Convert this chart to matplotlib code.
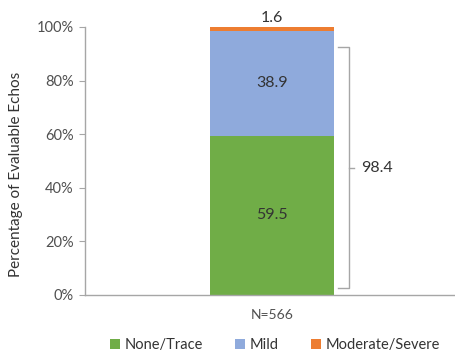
import matplotlib
matplotlib.use("Agg")
import matplotlib.pyplot as plt
from matplotlib.lines import Line2D
from matplotlib.patches import Patch

categories = ["N=566"]
series_names = ["None/Trace", "Mild", "Moderate/Severe"]
none_trace = [59.5]
mild = [38.9]
moderate_severe = [1.6]
bracket_total = 98.4
y_ticks = [0, 20, 40, 60, 80, 100]
y_tick_labels = ["0%", "20%", "40%", "60%", "80%", "100%"]

colors = ["#70AD47", "#8FAADC", "#ED7D31"]
text_dark = "#333333"
text_gray = "#505050"
axis_gray = "#A6A6A6"

plt.rcParams["font.family"] = ["Lato", "DejaVu Sans"]

fig = plt.figure(figsize=(4.56, 3.58), dpi=100)
ax = fig.add_axes([85 / 456, 1 - 295 / 358, 1 - 85 / 456, (295 - 27) / 358])

x = list(range(len(categories)))
width = 0.334
bottoms = [0.0] * len(categories)
for vals, col, name in zip([none_trace, mild, moderate_severe], colors, series_names):
    ax.bar(x, vals, width, bottom=bottoms, color=col, label=name, linewidth=0)
    bottoms = [b + v for b, v in zip(bottoms, vals)]

# segment labels
for i in x:
    ax.text(i, none_trace[i] / 2, f"{none_trace[i]:.1f}", ha="center", va="center",
            fontsize=11.5, color=text_dark)
    ax.text(i, none_trace[i] + mild[i] / 2, f"{mild[i]:.1f}", ha="center", va="center",
            fontsize=11.5, color=text_dark)
    ax.text(i, 100.8, f"{moderate_severe[i]:.1f}", ha="center", va="bottom",
            fontsize=11.5, color=text_dark)

# bracket spanning none/trace + mild
bx0, bx1, bx2 = 0.178, 0.207, 0.222
y_lo, y_hi = 2.6, 92.5
y_mid = (y_lo + y_hi) / 2
bracket_kw = dict(color=axis_gray, linewidth=1.0, clip_on=False)
ax.add_line(Line2D([bx0, bx1, bx1, bx0], [y_hi, y_hi, y_lo, y_lo], **bracket_kw))
ax.add_line(Line2D([bx1, bx2], [y_mid, y_mid], **bracket_kw))
ax.text(0.24, y_mid, f"{bracket_total:.1f}", ha="left", va="center",
        fontsize=11.5, color=text_dark)

ax.set_xlim(-0.504, 0.496)
ax.set_ylim(0, 100)
ax.set_yticks(y_ticks)
ax.set_yticklabels(y_tick_labels, fontsize=10.5, color=text_gray)
ax.set_xticks(x)
ax.set_xticklabels(categories, fontsize=10, color=text_gray)
ax.tick_params(axis="x", length=0, pad=10)
ax.tick_params(axis="y", length=4, color=axis_gray, pad=4)
ax.set_ylabel("Percentage of Evaluable Echos", fontsize=11, color=text_dark)
ax.yaxis.set_label_coords(-0.168, 0.45)

for side in ["top", "right"]:
    ax.spines[side].set_visible(False)
for side in ["left", "bottom"]:
    ax.spines[side].set_color(axis_gray)
    ax.spines[side].set_linewidth(1.0)

handles = [Patch(facecolor=c, edgecolor="none") for c in colors]
fig.legend(handles, series_names, loc="center", bbox_to_anchor=(275 / 456, 1 - 345 / 358),
           ncol=3, frameon=False, fontsize=10.5, handlelength=0.7, handleheight=0.7,
           handletextpad=0.3, columnspacing=2.2, labelcolor=text_dark)

fig.savefig("out.png", dpi=100)
